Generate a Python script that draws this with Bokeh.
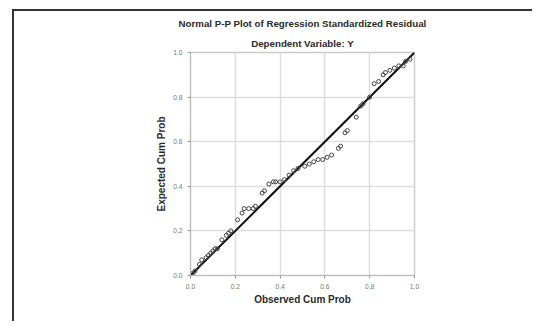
from bokeh.plotting import figure
from bokeh.models import Title, Range1d, FixedTicker, PrintfTickFormatter, InlineStyleSheet
from bokeh.embed import file_html
from bokeh.resources import INLINE

observed = [0.01, 0.02, 0.04, 0.05, 0.07, 0.08, 0.09, 0.10, 0.11, 0.12, 0.14, 0.16, 0.17, 0.18,
            0.21, 0.23, 0.24, 0.26, 0.28, 0.29, 0.32, 0.33, 0.35, 0.37, 0.38, 0.40, 0.42, 0.44,
            0.46, 0.48, 0.51, 0.53, 0.55, 0.57, 0.59, 0.61, 0.63, 0.66, 0.67, 0.69, 0.70, 0.74,
            0.76, 0.77, 0.80, 0.82, 0.84, 0.86, 0.87, 0.89, 0.91, 0.93, 0.95, 0.96, 0.98]
expected = [0.01, 0.02, 0.05, 0.07, 0.08, 0.09, 0.10, 0.11, 0.12, 0.12, 0.16, 0.18, 0.19, 0.20,
            0.25, 0.28, 0.30, 0.30, 0.30, 0.31, 0.37, 0.38, 0.41, 0.42, 0.42, 0.42, 0.43, 0.45,
            0.47, 0.48, 0.49, 0.50, 0.51, 0.52, 0.52, 0.53, 0.54, 0.57, 0.58, 0.64, 0.65, 0.71,
            0.76, 0.77, 0.80, 0.86, 0.87, 0.90, 0.91, 0.92, 0.93, 0.94, 0.94, 0.96, 0.97]
ref_line = [0.0, 1.0]
ticks = [0.0, 0.2, 0.4, 0.6, 0.8, 1.0]

p = figure(width=520, height=312, output_backend="svg", toolbar_location=None,
           x_range=Range1d(0, 1), y_range=Range1d(0, 1),
           min_border_left=176, min_border_right=120, min_border_top=41, min_border_bottom=48)
p.styles = {"border-left": "2px solid #333333", "border-top": "2px solid #333333"}
p.stylesheets = [InlineStyleSheet(css=":host { margin-left: 12px !important; margin-top: 9px !important; }")]

p.title = Title(text="Normal P-P Plot of Regression Standardized Residual", align="center",
                text_font="Liberation Sans", text_font_size="7.3pt", text_font_style="bold",
                text_color="#2a2a2a", standoff=6)
p.add_layout(Title(text="Dependent Variable: Y", align="center", text_font="Liberation Sans",
                   text_font_size="7.3pt", text_font_style="bold", text_color="#2a2a2a",
                   standoff=8), "above")

for ax in (p.xaxis[0], p.yaxis[0]):
    ax.ticker = FixedTicker(ticks=ticks)
    ax.formatter = PrintfTickFormatter(format="%.1f")
    ax.axis_line_color = "#bbbbbb"
    ax.major_tick_line_color = "#999999"
    ax.major_tick_out = 3
    ax.major_tick_in = 0
    ax.minor_tick_line_color = None
    ax.major_label_text_font = "Liberation Sans"
    ax.major_label_text_font_size = "5pt"
    ax.major_label_text_color = "#777777"
    ax.axis_label_text_font = "Liberation Sans"
    ax.axis_label_text_font_size = "7.5pt"
    ax.axis_label_text_font_style = "bold"
    ax.axis_label_text_color = "#2a2a2a"
p.xaxis[0].axis_label = "Observed Cum Prob"
p.yaxis[0].axis_label = "Expected Cum Prob"
p.xaxis[0].axis_label_standoff = 2
p.yaxis[0].axis_label_standoff = 3

p.grid.grid_line_color = "#dddddd"
p.grid.grid_line_width = 1.5
p.outline_line_color = "#cccccc"
p.outline_line_width = 1.5

p.line(ref_line, ref_line, line_color="#111111", line_width=2)
p.scatter(observed, expected, marker="circle", size=4, fill_color=None,
          line_color="#444444", line_width=1)

open("out.html", "w").write(file_html(p, INLINE))
